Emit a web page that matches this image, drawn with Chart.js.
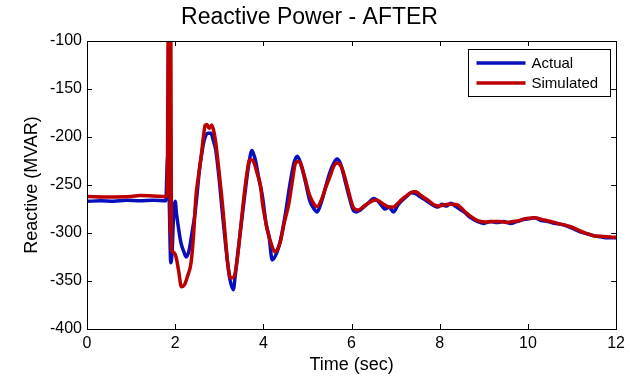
<!DOCTYPE html>
<html>
<head>
<meta charset="utf-8">
<title>Reactive Power - AFTER</title>
<script src="https://cdn.jsdelivr.net/npm/chart.js@4.4.1/dist/chart.umd.min.js"></script>
<style>
    html, body { margin: 0; padding: 0; background: #fff; }
    #wrap { width: 630px; height: 377px; position: relative; }
</style>
</head>
<body>
<div id="wrap"><canvas id="reactiveChart"></canvas></div>
<script>
// Reactive power after the event, measured vs simulated (MVAR over seconds)

const seriesLabels = ['Actual', 'Simulated'];

const actualTime = [
    0, 0.3, 0.6, 0.9, 1.2, 1.5, 1.79, 1.81, 1.83, 1.86, 1.9, 1.93, 1.96, 2.0, 2.03, 2.06,
    2.13, 2.2, 2.25, 2.32, 2.38, 2.44, 2.5, 2.55, 2.6, 2.66, 2.74, 2.81, 2.86, 2.92, 3.0,
    3.07, 3.15, 3.23, 3.32, 3.36, 3.41, 3.5, 3.6, 3.67, 3.74, 3.78, 3.82, 3.9, 3.98, 4.06,
    4.13, 4.2, 4.3, 4.4, 4.5, 4.6, 4.7, 4.77, 4.85, 4.95, 5.05, 5.15, 5.22, 5.3, 5.4, 5.5,
    5.6, 5.67, 5.75, 5.85, 5.95, 6.05, 6.12, 6.2, 6.3, 6.4, 6.5, 6.58, 6.66, 6.76, 6.85,
    6.95, 7.05, 7.15, 7.25, 7.35, 7.45, 7.55, 7.65, 7.75, 7.85, 7.95, 8.05, 8.15, 8.25,
    8.35, 8.45, 8.55, 8.7, 8.85, 9.0, 9.15, 9.3, 9.45, 9.6, 9.75, 9.9, 10.05, 10.15, 10.3,
    10.45, 10.6, 10.75, 10.9, 11.05, 11.2, 11.35, 11.5, 11.65, 11.8, 12
];
const actualMvar = [
    -267, -266.5, -267, -266, -266.5, -266, -266.5, -240, -220, -255, -331, -320, -285, -267, -280, -290,
    -310, -320, -325, -317, -300, -283, -258, -234, -218, -203, -196, -196, -203, -213.5, -245,
    -279, -315, -345.5, -359, -345, -325, -290, -252, -228, -214, -218, -224, -244, -262, -290,
    -304, -328, -321, -305, -280, -250, -226, -220, -228, -246, -266, -275, -278, -270, -254, -238,
    -227, -223, -228, -245, -263, -277, -278, -276, -272, -268, -264, -266, -270, -275, -273,
    -278, -271, -266, -262, -258, -259, -262, -265, -268, -271, -273, -270, -272, -269,
    -272, -275, -278, -284, -288, -290, -288, -289, -288, -290, -288, -286, -285, -284, -287,
    -288, -290, -291, -293, -296, -299, -301, -303, -304, -305, -305
];

const simTime = [
    0, 0.5, 1.0, 1.2, 1.5, 1.8, 1.82, 1.845, 1.86, 1.875, 1.89, 1.9, 1.915, 1.96, 2.02, 2.08,
    2.14, 2.21, 2.28, 2.36, 2.42, 2.47, 2.53, 2.59, 2.64, 2.68, 2.72, 2.77, 2.83, 2.88, 2.92,
    2.98, 3.07, 3.13, 3.19, 3.26, 3.34, 3.4, 3.45, 3.5, 3.56, 3.62, 3.69, 3.75, 3.79, 3.86,
    3.94, 3.98, 4.04, 4.09, 4.17, 4.26, 4.32, 4.38, 4.47, 4.58, 4.66, 4.73, 4.8, 4.84, 4.95,
    5.03, 5.1, 5.22, 5.33, 5.42, 5.52, 5.6, 5.67, 5.77, 5.86, 5.95, 6.05, 6.16, 6.28, 6.38,
    6.5, 6.57, 6.66, 6.76, 6.86, 6.95, 7.05, 7.13, 7.25, 7.4, 7.46, 7.55, 7.64, 7.74, 7.85,
    7.96, 8.08, 8.19, 8.3, 8.41, 8.49, 8.6, 8.71, 8.86, 9.05, 9.2, 9.32, 9.45, 9.54, 9.66,
    9.77, 9.9, 10.05, 10.14, 10.25, 10.37, 10.52, 10.67, 10.82, 10.97, 11.12, 11.27, 11.4,
    11.5, 11.65, 11.8, 12
];
const simMvar = [
    -262, -262.5, -262, -261, -261.5, -262, -258, -60, -250, -60, -300, -60, -318, -320, -325, -340,
    -356, -354, -345, -331, -300, -262, -240, -220, -200, -188, -187, -191, -187.5, -195, -206,
    -230, -269, -300, -331, -347, -345.5, -330, -310, -288, -262, -240, -224, -224, -227, -238,
    -252, -269, -285, -297, -310, -319.5, -317, -310, -290, -269, -245, -227, -225.5, -227, -244,
    -258, -266, -272.6, -264, -252, -240, -230, -227, -231, -244, -260, -274, -276, -272, -269,
    -266, -265.5, -268, -271, -273, -273, -269, -265.5, -261, -257, -257, -260, -263, -266, -270,
    -272, -271, -270, -270, -271, -274, -279, -283, -287, -288.5, -288, -288, -288.5, -289, -288,
    -287.5, -285.5, -284.5, -284, -285, -286.5, -288, -290, -291.5, -293.5, -296.5, -299.5, -301.5,
    -303, -303.5, -304, -304.5
];

const xTicks = [0, 2, 4, 6, 8, 10, 12];
const yTicks = [-400, -350, -300, -250, -200, -150, -100];

const FONT = 'Arial, "Liberation Sans", sans-serif';

function toPoints(times, values) {
    return times.map((t, i) => ({ x: t, y: values[i] }));
}

// box round the plot, inward ticks on all four sides, boxed legend top right
const matlabAxes = {
    id: 'matlabAxes',
    afterDatasetsDraw(chart) {
        const ctx = chart.ctx;
        const area = chart.chartArea;
        const xs = chart.scales.x;
        const ys = chart.scales.y;
        const tick = 5;

        ctx.save();
        ctx.strokeStyle = '#000';
        ctx.lineWidth = 1;
        ctx.beginPath();
        xTicks.forEach(v => {
            const px = Math.round(xs.getPixelForValue(v)) + 0.5;
            ctx.moveTo(px, area.bottom);
            ctx.lineTo(px, area.bottom - tick);
            ctx.moveTo(px, area.top);
            ctx.lineTo(px, area.top + tick);
        });
        yTicks.forEach(v => {
            const py = Math.round(ys.getPixelForValue(v)) + 0.5;
            ctx.moveTo(area.left, py);
            ctx.lineTo(area.left + tick, py);
            ctx.moveTo(area.right, py);
            ctx.lineTo(area.right - tick, py);
        });
        ctx.stroke();

        ctx.strokeRect(Math.round(area.left) + 0.5, Math.round(area.top) + 0.5,
            Math.round(area.right - area.left), Math.round(area.bottom - area.top));

        // legend
        const boxW = 142, boxH = 47;
        const bx = Math.round(area.right - 6 - boxW) + 0.5;
        const by = Math.round(area.top + 8) + 0.5;
        ctx.fillStyle = '#fff';
        ctx.fillRect(bx, by, boxW, boxH);
        ctx.strokeRect(bx, by, boxW, boxH);

        ctx.font = '15px ' + FONT;
        ctx.textBaseline = 'middle';
        ctx.textAlign = 'left';
        chart.data.datasets.forEach((ds, i) => {
            const ly = by + 13.5 + i * 20;
            ctx.strokeStyle = ds.borderColor;
            ctx.lineWidth = 3.5;
            ctx.beginPath();
            ctx.moveTo(bx + 8, ly);
            ctx.lineTo(bx + 57, ly);
            ctx.stroke();
            ctx.fillStyle = '#000';
            ctx.fillText(ds.label, bx + 63, ly + 1);
        });
        ctx.restore();
    }
};

const ctx = document.getElementById('reactiveChart');
new Chart(ctx, {
    type: 'line',
    data: {
        datasets: [
            {
                label: seriesLabels[0],
                data: toPoints(actualTime, actualMvar),
                borderColor: '#0a0fbe',
                borderWidth: 3.5,
                pointRadius: 0,
                cubicInterpolationMode: 'monotone',
                order: 2
            },
            {
                label: seriesLabels[1],
                data: toPoints(simTime, simMvar),
                borderColor: '#bb0000',
                borderWidth: 3.5,
                pointRadius: 0,
                cubicInterpolationMode: 'monotone',
                order: 1
            }
        ]
    },
    options: {
        responsive: true,
        maintainAspectRatio: false,
        animation: false,
        layout: {
            padding: { left: 0, right: 11, top: 0, bottom: 0 }
        },
        plugins: {
            legend: { display: false },
            tooltip: { enabled: false },
            title: {
                display: true,
                text: 'Reactive Power - AFTER',
                color: '#000',
                font: { family: FONT, size: 23, weight: 'normal' },
                padding: { top: 4, bottom: 9.4 }
            }
        },
        scales: {
            x: {
                type: 'linear',
                min: 0,
                max: 12,
                afterBuildTicks: s => { s.ticks = xTicks.map(v => ({ value: v })); },
                afterFit: s => { s.height = 48; },
                grid: { display: false, drawTicks: false },
                border: { display: false },
                ticks: {
                    color: '#000',
                    padding: 5,
                    maxRotation: 0,
                    font: { family: FONT, size: 16 }
                },
                title: {
                    display: true,
                    text: 'Time (sec)',
                    color: '#000',
                    font: { family: FONT, size: 18 },
                    padding: { top: 0, bottom: 1 }
                }
            },
            y: {
                min: -400,
                max: -100,
                afterBuildTicks: s => { s.ticks = yTicks.map(v => ({ value: v })); },
                afterFit: s => { s.width = 87; },
                grid: { display: false, drawTicks: false },
                border: { display: false },
                ticks: {
                    color: '#000',
                    padding: 5,
                    font: { family: FONT, size: 16 }
                },
                title: {
                    display: true,
                    text: 'Reactive (MVAR)',
                    color: '#000',
                    font: { family: FONT, size: 18 },
                    padding: { top: 21, bottom: 0 }
                }
            }
        }
    },
    plugins: [matlabAxes]
});
</script>
</body>
</html>
